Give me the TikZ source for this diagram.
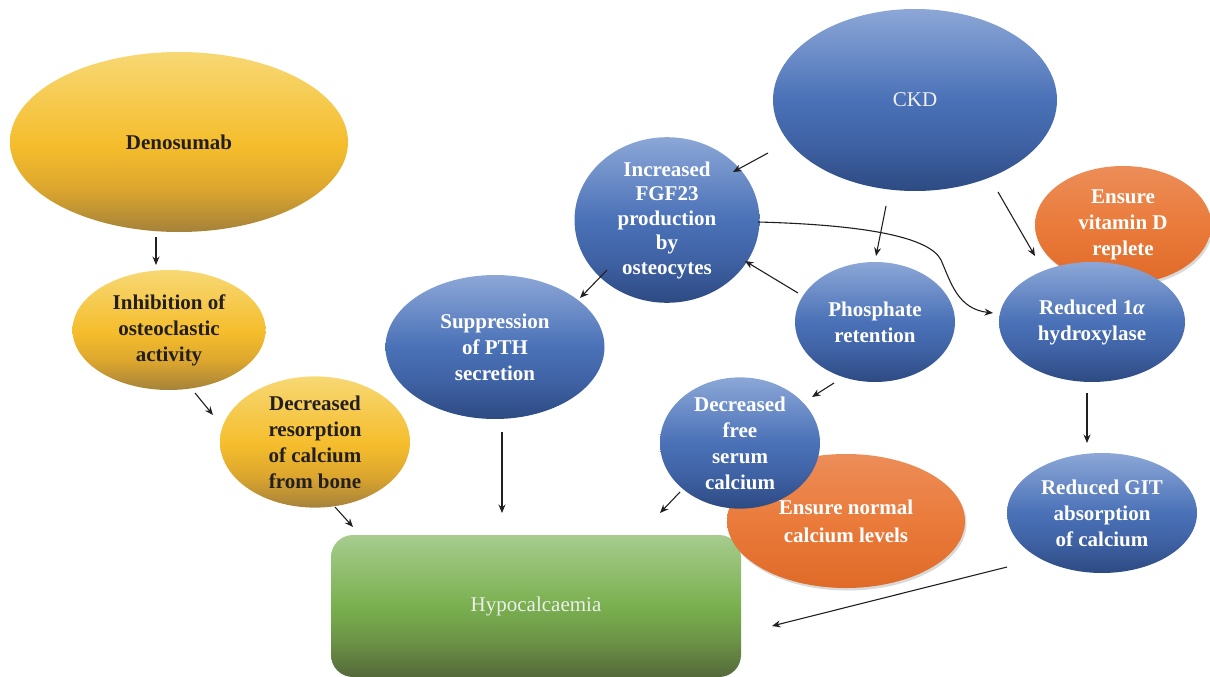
\documentclass[tikz,border=0pt]{standalone}
\usepackage{fontspec}
\setmainfont{Liberation Serif}
\usetikzlibrary{shapes.geometric,arrows.meta,calc,shadows}
\definecolor{txtdark}{HTML}{231F20}
\definecolor{bluetop}{HTML}{8CA7D7}
\definecolor{bluemid}{HTML}{4A71B7}
\definecolor{bluelow}{HTML}{3F62A4}
\definecolor{bluebot}{HTML}{2D4A82}
\definecolor{yeltop}{HTML}{F7D874}
\definecolor{yelmid}{HTML}{F5BD2C}
\definecolor{yellow2}{HTML}{DCA62E}
\definecolor{yelbot}{HTML}{A5823A}
\definecolor{ortop}{HTML}{EC8D58}
\definecolor{ormid}{HTML}{EA7B3B}
\definecolor{orbot}{HTML}{E06A28}
\definecolor{grtop}{HTML}{A7CC8F}
\definecolor{grmid}{HTML}{7AB04F}
\definecolor{grlow}{HTML}{6C9447}
\definecolor{grbot}{HTML}{55693A}
\pgfdeclareverticalshading{blueshade}{100bp}{color(0bp)=(bluebot); color(25bp)=(bluebot); color(38bp)=(bluelow); color(50bp)=(bluemid); color(75bp)=(bluetop); color(100bp)=(bluetop)}
\pgfdeclareverticalshading{yelshade}{100bp}{color(0bp)=(yelbot); color(25bp)=(yelbot); color(37bp)=(yellow2); color(49bp)=(yelmid); color(75bp)=(yeltop); color(100bp)=(yeltop)}
\pgfdeclareverticalshading{orshade}{100bp}{color(0bp)=(orbot); color(25bp)=(orbot); color(50bp)=(ormid); color(75bp)=(ortop); color(100bp)=(ortop)}
\pgfdeclareverticalshading{grshade}{100bp}{color(0bp)=(grbot); color(25bp)=(grbot); color(38bp)=(grlow); color(50bp)=(grmid); color(75bp)=(grtop); color(100bp)=(grtop)}
\tikzset{
  ell/.style={ellipse, inner sep=0pt, align=center, font=\fontsize{21}{26}\selectfont\bfseries},
  blueell/.style={ell, shading=blueshade, text=white},
  yelell/.style={ell, shading=yelshade, text=txtdark},
  orell/.style={ell, shading=orshade, text=white,
     drop shadow={shadow xshift=1.5pt, shadow yshift=-2.5pt, opacity=0.3}},
  greenbox/.style={rectangle, rounded corners=22pt, inner sep=0pt, shading=grshade, text=white!93!black, font=\fontsize{21}{26}\selectfont},
  arr/.style={draw=txtdark, line width=1.1pt, -{Stealth[length=8.5pt,width=7pt]}}
}
\begin{document}
\begin{tikzpicture}[x=1pt,y=-1pt]
\useasboundingbox (0,0) rectangle (1210,677);
% green box
\node[greenbox, minimum width=410pt, minimum height=142pt] (hypo) at (536,606) {Hypocalcaemia};
% orange
\node[orell, minimum width=238pt, minimum height=134pt, font=\fontsize{21}{28}\selectfont\bfseries] (ensca) at (846,521) {Ensure normal\\calcium levels};
\node[orell, minimum width=176pt, minimum height=118pt] (ensd) at (1123,225) {Ensure\\vitamin D\\replete};
% yellow
\node[yelell, minimum width=338pt, minimum height=180pt] (deno) at (179,142) {Denosumab};
\node[yelell, minimum width=193pt, minimum height=120pt] (inhib) at (169,330) {Inhibition of\\osteoclastic\\activity};
\node[yelell, minimum width=190pt, minimum height=120pt] (decres) at (315,442) {Decreased\\resorption\\of calcium\\from bone};
% blue
\node[blueell, minimum width=284pt, minimum height=182pt, font=\fontsize{21}{26}\selectfont, text=white!94!black] (ckd) at (915,100) {CKD};
\node[blueell, minimum width=185pt, minimum height=136pt, font=\fontsize{21}{24.5}\selectfont\bfseries] (fgf) at (667,220) {Increased\\FGF23\\production\\by\\osteocytes};
\node[blueell, minimum width=219pt, minimum height=144pt] (supp) at (495,347) {Suppression\\of PTH\\secretion};
\node[blueell, minimum width=160pt, minimum height=120pt] (phos) at (875,322) {Phosphate\\retention};
\node[blueell, minimum width=186pt, minimum height=120pt] (red) at (1092,322) {Reduced 1\textit{α}\\hydroxylase};
\node[blueell, minimum width=160pt, minimum height=120pt] (decfree) at (740,443) {Decreased\\free\\serum\\calcium};
\node[blueell, minimum width=190pt, minimum height=120pt] (git) at (1102,513) {Reduced GIT\\absorption\\of calcium};
% arrows
\draw[arr] ($(deno.center)+(-23,95)$) -- ($(inhib.center)+(-13,-65)$);
\draw[arr] ($(inhib.center)+(26,63)$) -- ($(decres.center)+(-102,-27)$);
\draw[arr] ($(decres.center)+(20,65)$) -- ($(hypo.center)+(-183,-79)$);
\draw[arr] ($(supp.center)+(7,85)$) -- ($(hypo.center)+(-34,-93)$);
\draw[arr] ($(fgf.center)+(-60,50)$) -- ($(supp.center)+(85,-49)$);
\draw[arr] ($(ckd.center)+(-147,53)$) -- ($(fgf.center)+(66,-48)$);
\draw[arr] ($(ckd.center)+(-29,106)$) -- ($(phos.center)+(1,-66)$);
\draw[arr] ($(ckd.center)+(83,92)$) -- ($(red.center)+(-57,-66)$);
\draw[arr] ($(phos.center)+(-77,-29)$) -- ($(fgf.center)+(78,41)$);
\draw[arr] ($(fgf.center)+(91,2)$) .. controls (870,225) and (930,238) .. (941,260) .. controls (951,283) and (958,309) .. ($(red.center)+(-99,-9)$);
\draw[arr] ($(phos.center)+(-41,61)$) -- ($(decfree.center)+(72,-46)$);
\draw[arr] ($(decfree.center)+(-60,49)$) -- ($(hypo.center)+(124,-93)$);
\draw[arr] ($(red.center)+(-5,71)$) -- ($(git.center)+(-15,-70)$);
\draw[arr] ($(git.center)+(-95,54)$) -- ($(hypo.center)+(236,20)$);
\end{tikzpicture}
\end{document}
